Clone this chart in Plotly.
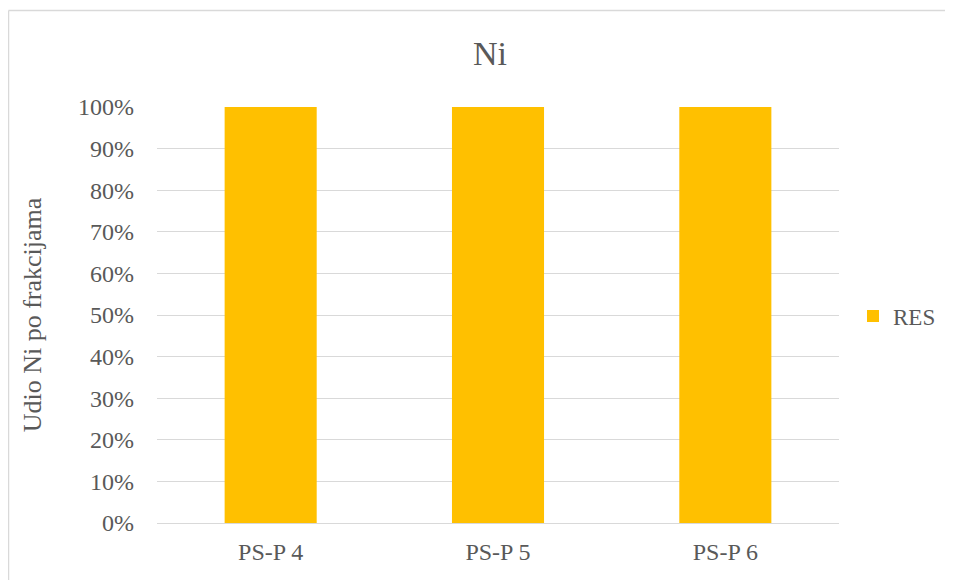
import plotly.graph_objects as go

categories = ["PS-P 4", "PS-P 5", "PS-P 6"]
res_values = [1.0, 1.0, 1.0]
series_name = "RES"
title_text = "Ni"
y_title = "Udio Ni po frakcijama"
y_tickvals = [i / 10 for i in range(11)]
y_ticktext = [f"{i*10}%" for i in range(11)]

FONT = "Liberation Serif, Times New Roman, serif"
TXT = "#595959"
GRID = "#d9d9d9"

fig = go.Figure()
fig.add_trace(go.Bar(x=categories, y=res_values, name=series_name,
                     marker=dict(color="#FFC000", line=dict(width=0))))

# page body has an 8px margin, so the figure is sized to fit inside the window
W, H = 937, 572
L, T = 149, 99
R = W - 831
B = H - 515
pw, ph = W - L - R, H - T - B

def px(x):
    return (x - L) / pw

def py(y):
    return (H - B - y) / ph

border = dict(color="#d9d9d9", width=1.5)

fig.update_layout(
    width=W, height=H,
    margin=dict(l=L, r=R, t=T, b=B, autoexpand=False),
    paper_bgcolor="white", plot_bgcolor="white",
    font=dict(family=FONT, color=TXT, size=24),
    title=dict(text=title_text, x=482 / W, xanchor="center", y=1 - 45 / H, yanchor="middle",
               font=dict(size=34, color=TXT, family=FONT)),
    bargap=0.595,
    showlegend=True,
    legend=dict(x=px(845), xanchor="left", y=py(308), yanchor="middle",
                font=dict(size=23, color=TXT, family=FONT), bgcolor="rgba(0,0,0,0)"),
    xaxis=dict(showgrid=False, showline=False, ticks="", tickfont=dict(size=24),
               ticklabelstandoff=12),
    yaxis=dict(range=[0, 1], tickvals=y_tickvals, ticktext=y_ticktext,
               showgrid=True, gridcolor=GRID, gridwidth=1.3, zeroline=True,
               zerolinecolor=GRID, zerolinewidth=1.3, showline=False, ticks="",
               tickfont=dict(size=24), ticklabelstandoff=22,
               title=dict(text=y_title, font=dict(size=26), standoff=28)),
    shapes=[
        dict(type="line", xref="paper", yref="paper",
             x0=px(0.5), x1=px(1100), y0=py(2.5), y1=py(2.5), line=border, layer="below"),
        dict(type="line", xref="paper", yref="paper",
             x0=px(0.5), x1=px(0.5), y0=py(2.5), y1=py(700), line=border, layer="below"),
    ],
)

fig.write_html("out.html")
